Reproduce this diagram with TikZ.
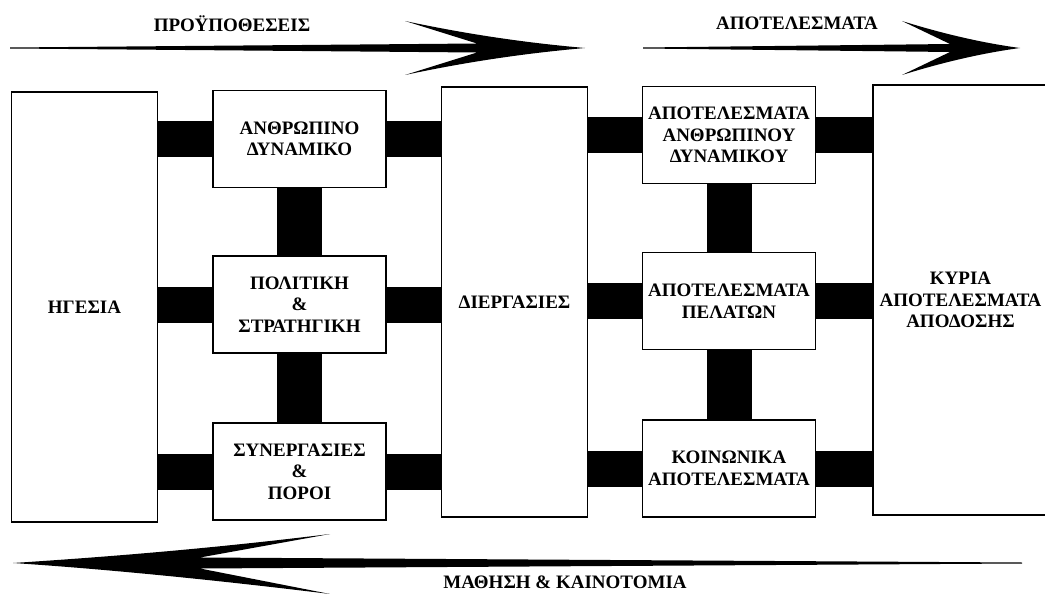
\documentclass[tikz,border=0pt]{standalone}
\usepackage{fontspec}
\setmainfont{Liberation Serif}
\usetikzlibrary{backgrounds}

\tikzset{
  box/.style={draw, line width=1.6pt, fill=white, align=center, inner sep=0pt,
    font=\fontsize{19}{21.5}\selectfont\bfseries},
  tallbox/.style={box, minimum width=146pt, minimum height=430pt},
  smallbox/.style={box, minimum width=173pt, minimum height=97pt},
  hbar/.style={line width=36pt},
  vbar/.style={line width=45pt},
  headtext/.style={font=\fontsize{19}{21.5}\selectfont\bfseries}
}

\begin{document}
\begin{tikzpicture}[x=1pt, y=-1pt]
  \useasboundingbox (0,0) rectangle (1045,594);

  % columns of boxes
  \node[tallbox] (hgesia) at (84.5,307) {ΗΓΕΣΙΑ};
  \node[smallbox] (anthropino) at (299.5,139) {ΑΝΘΡΩΠΙΝΟ\\ΔΥΝΑΜΙΚΟ};
  \node[smallbox] (politiki) at (299.5,304.5) {ΠΟΛΙΤΙΚΗ\\\&\\ΣΤΡΑΤΗΓΙΚΗ};
  \node[smallbox] (synergasies) at (299.5,471.5) {ΣΥΝΕΡΓΑΣΙΕΣ\\\&\\ΠΟΡΟΙ};
  \node[tallbox] (diergasies) at (514.5,302) {ΔΙΕΡΓΑΣΙΕΣ};
  \node[smallbox] (apotanthr) at (729,135) {ΑΠΟΤΕΛΕΣΜΑΤΑ\\ΑΝΘΡΩΠΙΝΟΥ\\ΔΥΝΑΜΙΚΟΥ};
  \node[smallbox] (apotpelaton) at (729,301) {ΑΠΟΤΕΛΕΣΜΑΤΑ\\ΠΕΛΑΤΩΝ};
  \node[smallbox] (koinonika) at (729,468.5) {ΚΟΙΝΩΝΙΚΑ\\ΑΠΟΤΕΛΕΣΜΑΤΑ};
  \node[tallbox, minimum width=175pt] (kyria) at (960.5,300) {ΚΥΡΙΑ\\ΑΠΟΤΕΛΕΣΜΑΤΑ\\ΑΠΟΔΟΣΗΣ};

  % black bars behind the boxes
  \begin{scope}[on background layer]
    \foreach \b in {anthropino, politiki, synergasies} {
      \draw[hbar] (hgesia.east |- \b.west) -- (\b.west);
      \draw[hbar] (\b.east) -- (diergasies.west |- \b.east);
    }
    \foreach \b in {apotanthr, apotpelaton, koinonika} {
      \draw[hbar] (diergasies.east |- \b.west) -- (\b.west);
      \draw[hbar] (\b.east) -- (kyria.west |- \b.east);
    }
    \draw[vbar] (anthropino.south) -- (politiki.north);
    \draw[vbar] (politiki.south) -- (synergasies.north);
    \draw[vbar] (apotanthr.south) -- (apotpelaton.north);
    \draw[vbar] (apotpelaton.south) -- (koinonika.north);
  \end{scope}

  % big arrows
  \fill (10,47.5) -- (477,43.5) -- (405,21) .. controls (480,37) and (540,44) .. (585,48)
    .. controls (540,52) and (480,59) .. (405,75) -- (477,52.5) -- (10,48.5) -- cycle;
  \fill (643,47.5) -- (950,44) -- (902,21) .. controls (950,36) and (990,44) .. (1020,48)
    .. controls (990,52) and (950,60) .. (902,75) -- (950,52) -- (643,48.5) -- cycle;
  \fill (1022,562.5) -- (200,557.5) -- (330,534) .. controls (200,550) and (90,558) .. (13,563)
    .. controls (90,568) and (200,578) .. (330,594) -- (200,568.5) -- (1022,563.5) -- cycle;

  \node[headtext] (proypotheseis) at (232,24) {ΠΡΟΫΠΟΘΕΣΕΙΣ};
  \node[headtext] (apotelesmata) at (797,23) {ΑΠΟΤΕΛΕΣΜΑΤΑ};
  \node[headtext] (mathisi) at (565,582) {ΜΑΘΗΣΗ \& ΚΑΙΝΟΤΟΜΙΑ};
\end{tikzpicture}
\end{document}
